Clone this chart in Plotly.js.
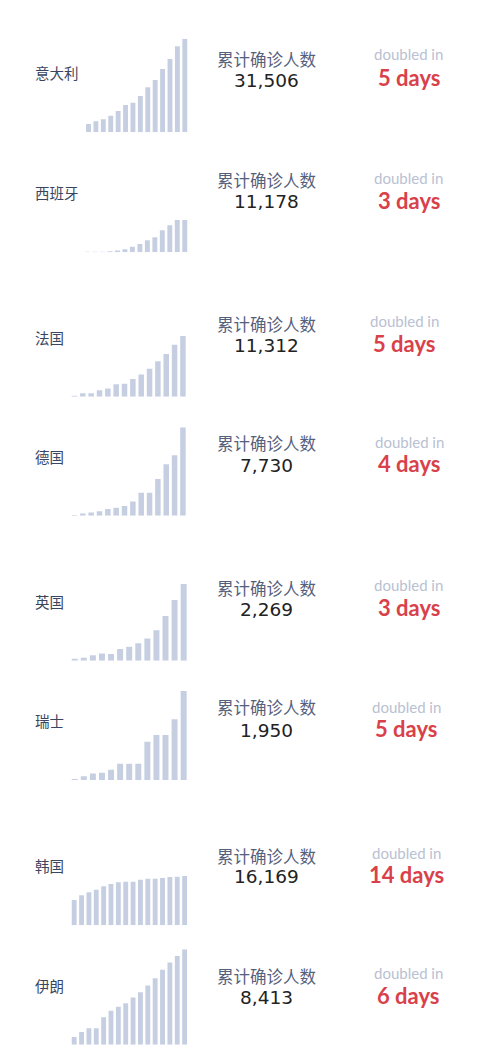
<!DOCTYPE html>
<html>
<head>
<meta charset="utf-8">
<script src="https://cdn.plot.ly/plotly-3.0.1.min.js"></script>
<style>
  html, body { margin: 0; padding: 0; background: #fff; }
  #chart { width: 496px; height: 1061px; }
</style>
</head>
<body>
<div id="chart"></div>
<script>
// country names
var countries = ['意大利', '西班牙', '法国', '德国', '英国', '瑞士', '韩国', '伊朗'];

// cumulative cases, last days
var italy   = [2800, 3700, 4370, 5600, 7180, 9190, 9980, 12220, 15140, 17600, 21300, 24670, 28930, 31506];
var spain   = [150, 150, 150, 350, 580, 1040, 1960, 2880, 4150, 5190, 7610, 9330, 11178, 11178];
var france  = [190, 620, 620, 1180, 1550, 2300, 2420, 3290, 4160, 5220, 6590, 7960, 9700, 11312];
var germany = [60, 200, 290, 380, 580, 700, 850, 1250, 2010, 2010, 3210, 4490, 5280, 7730];
var uk      = [60, 90, 160, 210, 200, 345, 415, 515, 660, 900, 1320, 1795, 2269];
var swiss   = [22, 80, 140, 160, 225, 358, 358, 358, 840, 985, 985, 1330, 1950];
var korea   = [8300, 9830, 10820, 11690, 12780, 13550, 14090, 14310, 14310, 14970, 15300, 15300, 15510, 15840, 15950, 16169];
var iran    = [670, 1110, 1440, 1440, 2430, 2990, 3340, 3660, 4160, 4630, 5220, 5860, 6600, 7240, 7830, 8413];

var series = [italy, spain, france, germany, uk, swiss, korea, iran];

var totalLabels = ['31,506', '11,178', '11,312', '7,730', '2,269', '1,950', '16,169', '8,413'];
var doubledLabels = ['5 days', '3 days', '5 days', '4 days', '3 days', '5 days', '14 days', '6 days'];

// pixel layout of each row (x0,x1 = bar area, base/top = bar baseline and tallest bar top)
var W = 496, H = 1061;
var rows = [
  {x0: 84.8, x1: 188.5, base: 132.3, top: 38.7, name: 72.5, cum: 59.5, num: 81,  dbl: 54.5, days: 77,  dx: 408.5},
  {x0: 83.8, x1: 188.5, base: 252.3, top: 220,  name: 192,  cum: 180,  num: 201.5, dbl: 178.3, days: 201, dx: 408.5},
  {x0: 70.3, x1: 187.1, base: 396.7, top: 336,  name: 337.5, cum: 323.5, num: 345, dbl: 321, days: 343.3, dx: 404},
  {x0: 70.3, x1: 187.1, base: 515.7, top: 427.3, name: 456.7, cum: 443.3, num: 465, dbl: 441.7, days: 463.3, dx: 409},
  {x0: 70.2, x1: 188.2, base: 660.7, top: 584,  name: 601,  cum: 588.3, num: 609.3, dbl: 585, days: 607.7, dx: 408.5},
  {x0: 70.2, x1: 188.2, base: 780,   top: 691,  name: 720,  cum: 707.3, num: 730, dbl: 706.7, days: 728.3, dx: 406},
  {x0: 70.5, x1: 188.3, base: 925.3, top: 876,  name: 865,  cum: 855.7, num: 876.7, dbl: 853.3, days: 874.3, dx: 406},
  {x0: 70.5, x1: 188.3, base: 1044.7, top: 949.3, name: 985, cum: 976, num: 997.5, dbl: 973.3, days: 995.7, dx: 408}
];

function px(x) { return x / W; }
function py(y) { return 1 - y / H; }

var data = [];
var layout = {
  width: W,
  height: H,
  margin: {l: 0, r: 0, t: 0, b: 0},
  paper_bgcolor: '#ffffff',
  plot_bgcolor: 'rgba(0,0,0,0)',
  showlegend: false,
  bargap: 0.34,
  annotations: []
};

series.forEach(function(vals, i) {
  var n = i + 1;
  var r = rows[i];
  var xa = n === 1 ? 'x' : 'x' + n;
  var ya = n === 1 ? 'y' : 'y' + n;
  data.push({
    type: 'bar',
    x: vals.map(function(v, k) { return k; }),
    y: vals,
    xaxis: xa,
    yaxis: ya,
    marker: {color: '#c6cfe2', line: {width: 0}},
    hoverinfo: 'skip'
  });
  var max = Math.max.apply(null, vals);
  layout['xaxis' + (n === 1 ? '' : n)] = {
    domain: [px(r.x0), px(r.x1)],
    range: [-0.5, vals.length - 0.5],
    visible: false,
    fixedrange: true,
    anchor: ya
  };
  layout['yaxis' + (n === 1 ? '' : n)] = {
    domain: [py(r.base), py(r.top)],
    range: [0, max],
    visible: false,
    fixedrange: true,
    anchor: xa
  };

  layout.annotations.push(
    {text: countries[i], x: px(33), y: py(r.name), xanchor: 'left', yanchor: 'middle',
     font: {family: 'Noto Sans CJK SC', size: 14.5, color: '#3b4560'}},
    {text: '累计确诊人数', x: px(267), y: py(r.cum), xanchor: 'center', yanchor: 'middle',
     font: {family: 'Noto Sans CJK SC', size: 16.5, color: '#55607c'}},
    {text: totalLabels[i], x: px(266.8), y: py(r.num), xanchor: 'center', yanchor: 'middle',
     font: {family: 'DejaVu Sans', size: 18.5, color: '#222222'}},
    {text: 'doubled in', x: px(r.dx), y: py(r.dbl), xanchor: 'center', yanchor: 'middle',
     font: {family: 'Lato', size: 15, color: '#b9c1d2'}},
    {text: '<b>' + doubledLabels[i] + '</b>', x: px(r.dx), y: py(r.days), xanchor: 'center', yanchor: 'middle',
     font: {family: 'Lato', size: 22, color: '#d9414a'}}
  );
});

layout.annotations.forEach(function(a) {
  a.xref = 'paper';
  a.yref = 'paper';
  a.showarrow = false;
});

Plotly.newPlot('chart', data, layout, {staticPlot: true, displayModeBar: false});
</script>
</body>
</html>
